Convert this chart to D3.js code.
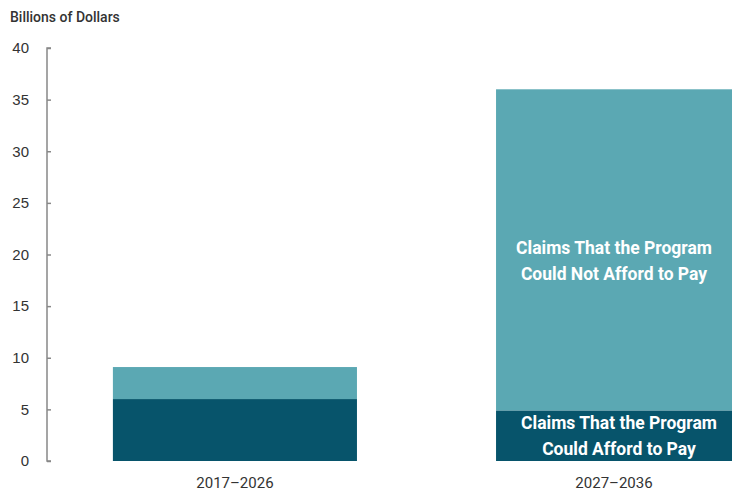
<!DOCTYPE html>
<html>
<head>
<meta charset="utf-8">
<script src="https://cdn.jsdelivr.net/npm/d3@7.9.0/dist/d3.min.js"></script>
<style>
  body { margin: 0; background: #fff; }
  svg { display: block; font-family: "Roboto", "Liberation Sans", sans-serif; }
</style>
</head>
<body>
<div id="chart"></div>
<script>
const periods = ['2017–2026', '2027–2036'];
const affordable = [6.0, 4.9];
const unaffordable = [3.1, 31.1];
const yTicks = [0, 5, 10, 15, 20, 25, 30, 35, 40];

const width = 732, height = 491;
const margin = { top: 48, bottom: 30, left: 47 };

const svg = d3.select('#chart').append('svg')
  .attr('width', width)
  .attr('height', height);

const x = d3.scaleBand()
  .domain(periods)
  .range([margin.left, 806])
  .paddingInner(0.363)
  .paddingOuter(0.172);

const y = d3.scaleLinear()
  .domain([0, 40])
  .range([height - margin.bottom, margin.top]);

const data = periods.map((p, i) => ({ period: p, afford: affordable[i], notAfford: unaffordable[i] }));
const stack = d3.stack().keys(['afford', 'notAfford'])(data);
const colors = { afford: '#07546b', notAfford: '#5ba8b3' };

// bars
svg.append('g').selectAll('g')
  .data(stack)
  .join('g')
  .attr('fill', d => colors[d.key])
  .selectAll('rect')
  .data(d => d)
  .join('rect')
  .attr('x', d => x(d.data.period))
  .attr('y', d => y(d[1]))
  .attr('width', x.bandwidth())
  .attr('height', d => y(d[0]) - y(d[1]));

// y axis
const yAxis = svg.append('g')
  .attr('transform', `translate(${margin.left},0)`)
  .call(d3.axisRight(y).tickValues(yTicks).tickSize(4).tickFormat(d3.format('d')));
yAxis.select('.domain').attr('stroke', '#888').attr('stroke-width', 1.5)
  .attr('d', `M4,${y(40)}H0V${y(0)}H4`);
yAxis.selectAll('.tick line').attr('stroke', '#888').attr('stroke-width', 1.5);
yAxis.selectAll('.tick text')
  .attr('x', -18)
  .attr('text-anchor', 'end')
  .attr('fill', '#333')
  .style('font-size', '15px');

svg.append('text')
  .attr('x', 10).attr('y', 22)
  .attr('fill', '#333')
  .style('font-size', '14px')
  .style('font-weight', 500)
  .text('Billions of Dollars');

// category labels
svg.append('g').selectAll('text')
  .data(periods)
  .join('text')
  .attr('x', (d, i) => i === 0 ? x(d) + x.bandwidth() / 2 : 614)
  .attr('y', 488)
  .attr('text-anchor', 'middle')
  .attr('fill', '#333')
  .style('font-size', '15px')
  .text(d => d);

// in-bar labels
const inLabels = [
  { lines: ['Claims That the Program', 'Could Not Afford to Pay'], y0: 254, cx: 614 },
  { lines: ['Claims That the Program', 'Could Afford to Pay'], y0: 429, cx: 619 }
];
inLabels.forEach(l => {
  l.lines.forEach((t, i) => {
    svg.append('text')
      .attr('x', l.cx)
      .attr('y', l.y0 + i * 26)
      .attr('text-anchor', 'middle')
      .attr('fill', '#fff')
      .style('font-size', '17.5px')
      .style('font-weight', 'bold')
      .text(t);
  });
});
</script>
</body>
</html>
